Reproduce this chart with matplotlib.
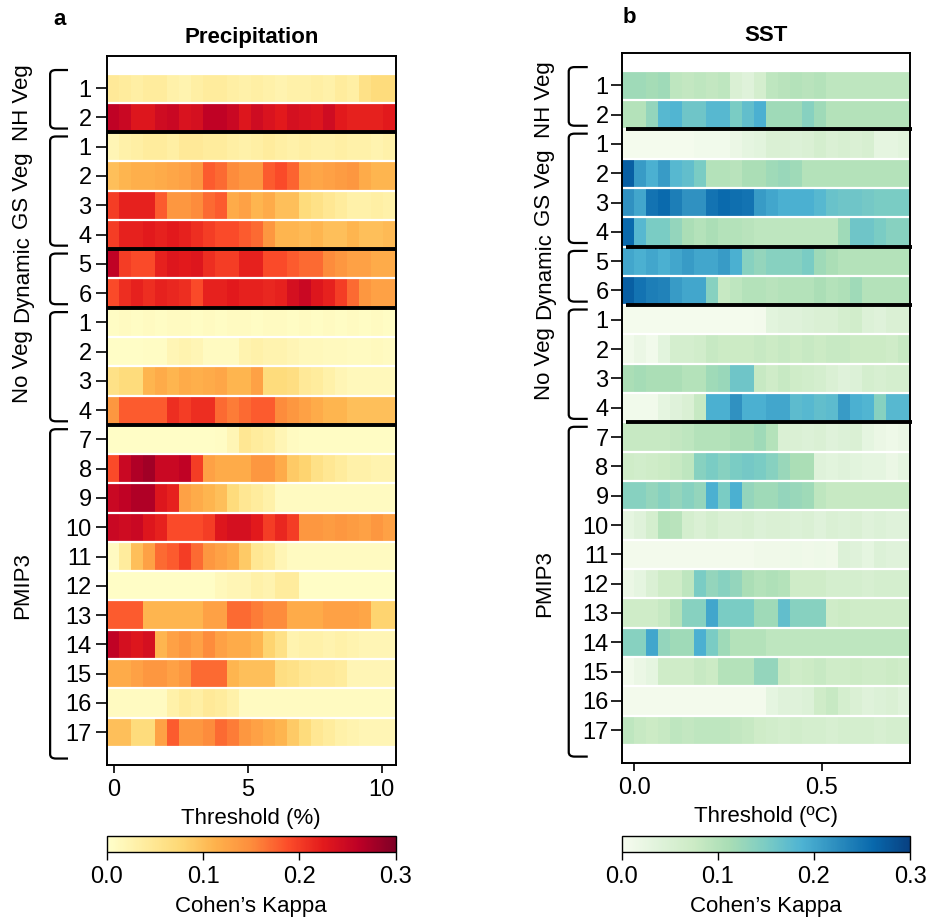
import numpy as np
import matplotlib.pyplot as plt
from matplotlib.path import Path
from matplotlib.patches import PathPatch

plt.rcParams['font.family'] = ['Liberation Sans', 'DejaVu Sans']

# row groups and tick labels (same for both panels)
groups = ['NH Veg', 'GS Veg', 'Dynamic', 'No Veg', 'PMIP3']
group_sizes = [2, 4, 2, 4, 11]
row_labels = ['1', '2', '1', '2', '3', '4', '5', '6', '1', '2', '3', '4',
              '7', '8', '9', '10', '11', '12', '13', '14', '15', '16', '17']

# Cohen's kappa per row (24 threshold bins per row)
precip_nh_veg = [
    [0.045, 0.04, 0.035, 0.04, 0.04, 0.03, 0.025, 0.035, 0.04, 0.04, 0.035, 0.03, 0.035, 0.03, 0.025, 0.03, 0.03, 0.035, 0.03, 0.04, 0.035, 0.06, 0.07, 0.07],
    [0.26, 0.25, 0.23, 0.23, 0.245, 0.25, 0.235, 0.24, 0.26, 0.26, 0.25, 0.23, 0.245, 0.235, 0.225, 0.24, 0.235, 0.23, 0.245, 0.225, 0.22, 0.22, 0.22, 0.225],
]
precip_gs_veg = [
    [0.02, 0.03, 0.035, 0.04, 0.04, 0.035, 0.045, 0.045, 0.04, 0.04, 0.035, 0.03, 0.035, 0.04, 0.035, 0.03, 0.035, 0.03, 0.03, 0.035, 0.03, 0.03, 0.025, 0.03],
    [0.1, 0.11, 0.115, 0.115, 0.12, 0.125, 0.13, 0.14, 0.18, 0.17, 0.15, 0.14, 0.14, 0.18, 0.19, 0.175, 0.13, 0.125, 0.13, 0.135, 0.14, 0.12, 0.11, 0.11],
    [0.2, 0.22, 0.22, 0.22, 0.18, 0.14, 0.14, 0.15, 0.17, 0.18, 0.12, 0.13, 0.11, 0.12, 0.1, 0.1, 0.07, 0.06, 0.05, 0.04, 0.03, 0.03, 0.035, 0.03],
    [0.2, 0.22, 0.22, 0.225, 0.22, 0.225, 0.22, 0.21, 0.2, 0.19, 0.19, 0.18, 0.17, 0.14, 0.11, 0.11, 0.105, 0.11, 0.1, 0.1, 0.11, 0.1, 0.1, 0.105],
]
precip_dynamic = [
    [0.26, 0.2, 0.19, 0.19, 0.22, 0.23, 0.225, 0.23, 0.21, 0.2, 0.2, 0.22, 0.22, 0.19, 0.19, 0.18, 0.17, 0.17, 0.15, 0.14, 0.13, 0.13, 0.12, 0.12],
    [0.19, 0.21, 0.22, 0.21, 0.22, 0.215, 0.21, 0.19, 0.22, 0.22, 0.225, 0.22, 0.22, 0.215, 0.22, 0.24, 0.25, 0.23, 0.22, 0.2, 0.17, 0.14, 0.13, 0.13],
]
precip_no_veg = [
    [0.008, 0.01, 0.008, 0.01, 0.008, 0.01, 0.01, 0.008, 0.01, 0.008, 0.01, 0.01, 0.008, 0.01, 0.01, 0.008, 0.01, 0.008, 0.01, 0.008, 0.01, 0.008, 0.01, 0.008],
    [0.005, 0.005, 0.005, 0.008, 0.008, 0.02, 0.025, 0.02, 0.01, 0.01, 0.01, 0.025, 0.03, 0.025, 0.025, 0.02, 0.015, 0.015, 0.012, 0.012, 0.01, 0.01, 0.012, 0.01],
    [0.06, 0.07, 0.07, 0.11, 0.12, 0.11, 0.12, 0.115, 0.12, 0.125, 0.11, 0.11, 0.13, 0.07, 0.07, 0.065, 0.045, 0.04, 0.03, 0.02, 0.015, 0.015, 0.015, 0.015],
    [0.14, 0.18, 0.18, 0.18, 0.18, 0.21, 0.2, 0.21, 0.21, 0.17, 0.16, 0.17, 0.18, 0.18, 0.15, 0.14, 0.13, 0.12, 0.11, 0.11, 0.1, 0.1, 0.1, 0.1],
]
precip_pmip3 = [
    [0.005, 0.005, 0.005, 0.005, 0.005, 0.005, 0.005, 0.005, 0.005, 0.008, 0.02, 0.05, 0.04, 0.035, 0.02, 0.01, 0.008, 0.008, 0.008, 0.008, 0.008, 0.008, 0.008, 0.008],
    [0.19, 0.25, 0.27, 0.28, 0.25, 0.25, 0.26, 0.2, 0.13, 0.12, 0.12, 0.12, 0.14, 0.14, 0.12, 0.09, 0.08, 0.06, 0.05, 0.04, 0.03, 0.03, 0.025, 0.025],
    [0.25, 0.26, 0.27, 0.27, 0.23, 0.22, 0.13, 0.12, 0.11, 0.1, 0.07, 0.05, 0.04, 0.03, 0.01, 0.01, 0.01, 0.01, 0.01, 0.01, 0.01, 0.01, 0.01, 0.01],
    [0.25, 0.245, 0.25, 0.23, 0.22, 0.19, 0.19, 0.19, 0.2, 0.23, 0.24, 0.24, 0.225, 0.2, 0.215, 0.2, 0.14, 0.14, 0.135, 0.14, 0.135, 0.13, 0.14, 0.13],
    [0.01, 0.04, 0.1, 0.13, 0.17, 0.18, 0.2, 0.17, 0.14, 0.13, 0.12, 0.09, 0.05, 0.04, 0.02, 0.01, 0.01, 0.01, 0.01, 0.01, 0.01, 0.01, 0.01, 0.01],
    [0.005, 0.005, 0.005, 0.005, 0.005, 0.005, 0.005, 0.005, 0.005, 0.015, 0.02, 0.02, 0.03, 0.025, 0.04, 0.04, 0.005, 0.005, 0.005, 0.005, 0.005, 0.005, 0.005, 0.005],
    [0.18, 0.18, 0.18, 0.11, 0.11, 0.11, 0.11, 0.11, 0.13, 0.13, 0.17, 0.17, 0.16, 0.15, 0.15, 0.12, 0.12, 0.12, 0.13, 0.13, 0.13, 0.125, 0.08, 0.08],
    [0.26, 0.24, 0.23, 0.24, 0.11, 0.13, 0.14, 0.13, 0.15, 0.13, 0.12, 0.12, 0.11, 0.08, 0.06, 0.025, 0.03, 0.03, 0.025, 0.03, 0.025, 0.02, 0.02, 0.02],
    [0.12, 0.12, 0.13, 0.14, 0.14, 0.13, 0.14, 0.17, 0.17, 0.17, 0.11, 0.1, 0.1, 0.1, 0.065, 0.06, 0.05, 0.045, 0.045, 0.04, 0.02, 0.02, 0.02, 0.02],
    [0.01, 0.01, 0.01, 0.01, 0.01, 0.03, 0.04, 0.035, 0.045, 0.04, 0.03, 0.01, 0.01, 0.01, 0.01, 0.01, 0.01, 0.01, 0.01, 0.01, 0.01, 0.01, 0.01, 0.01],
    [0.1, 0.1, 0.07, 0.07, 0.13, 0.18, 0.14, 0.14, 0.15, 0.17, 0.16, 0.14, 0.13, 0.12, 0.11, 0.09, 0.07, 0.05, 0.04, 0.03, 0.025, 0.02, 0.02, 0.02],
]

sst_nh_veg = [
    [0.12, 0.12, 0.115, 0.12, 0.09, 0.085, 0.09, 0.085, 0.09, 0.05, 0.04, 0.06, 0.09, 0.095, 0.1, 0.095, 0.1, 0.09, 0.09, 0.09, 0.09, 0.09, 0.09, 0.09],
    [0.1, 0.1, 0.13, 0.18, 0.185, 0.16, 0.16, 0.18, 0.18, 0.15, 0.17, 0.19, 0.12, 0.12, 0.12, 0.14, 0.12, 0.1, 0.1, 0.1, 0.1, 0.1, 0.1, 0.1],
]
sst_gs_veg = [
    [0.005, 0.005, 0.005, 0.005, 0.005, 0.005, 0.01, 0.01, 0.01, 0.02, 0.03, 0.035, 0.05, 0.05, 0.045, 0.05, 0.06, 0.05, 0.055, 0.05, 0.055, 0.03, 0.03, 0.035],
    [0.27, 0.21, 0.19, 0.21, 0.18, 0.17, 0.15, 0.1, 0.1, 0.095, 0.11, 0.11, 0.12, 0.125, 0.12, 0.1, 0.1, 0.1, 0.1, 0.1, 0.1, 0.1, 0.1, 0.1],
    [0.22, 0.2, 0.25, 0.26, 0.24, 0.22, 0.22, 0.25, 0.26, 0.255, 0.25, 0.21, 0.2, 0.19, 0.19, 0.19, 0.18, 0.165, 0.16, 0.16, 0.155, 0.15, 0.15, 0.15],
    [0.26, 0.18, 0.15, 0.15, 0.13, 0.11, 0.1, 0.11, 0.1, 0.1, 0.095, 0.09, 0.09, 0.09, 0.09, 0.09, 0.09, 0.09, 0.12, 0.16, 0.16, 0.15, 0.14, 0.14],
]
sst_dynamic = [
    [0.2, 0.19, 0.2, 0.19, 0.2, 0.21, 0.2, 0.2, 0.21, 0.19, 0.14, 0.13, 0.14, 0.14, 0.14, 0.15, 0.12, 0.11, 0.1, 0.1, 0.1, 0.1, 0.1, 0.1],
    [0.27, 0.25, 0.24, 0.235, 0.21, 0.2, 0.2, 0.14, 0.08, 0.09, 0.1, 0.1, 0.095, 0.1, 0.1, 0.1, 0.11, 0.1, 0.105, 0.12, 0.1, 0.1, 0.1, 0.1],
]
sst_no_veg = [
    [0.005, 0.005, 0.005, 0.005, 0.005, 0.005, 0.005, 0.005, 0.005, 0.005, 0.005, 0.008, 0.035, 0.04, 0.04, 0.045, 0.05, 0.05, 0.06, 0.065, 0.045, 0.04, 0.05, 0.05],
    [0.01, 0.02, 0.01, 0.035, 0.06, 0.06, 0.065, 0.08, 0.075, 0.075, 0.075, 0.08, 0.075, 0.08, 0.075, 0.08, 0.075, 0.08, 0.08, 0.075, 0.075, 0.075, 0.07, 0.08],
    [0.11, 0.115, 0.11, 0.11, 0.11, 0.1, 0.1, 0.12, 0.125, 0.16, 0.16, 0.08, 0.07, 0.08, 0.07, 0.065, 0.06, 0.05, 0.04, 0.045, 0.06, 0.055, 0.06, 0.06],
    [0.01, 0.01, 0.01, 0.03, 0.04, 0.05, 0.08, 0.19, 0.19, 0.22, 0.19, 0.19, 0.2, 0.2, 0.175, 0.18, 0.17, 0.175, 0.21, 0.19, 0.185, 0.14, 0.18, 0.18],
]
sst_pmip3 = [
    [0.08, 0.08, 0.08, 0.08, 0.085, 0.09, 0.1, 0.1, 0.1, 0.11, 0.11, 0.12, 0.1, 0.05, 0.05, 0.045, 0.05, 0.04, 0.045, 0.05, 0.03, 0.02, 0.015, 0.02],
    [0.07, 0.065, 0.07, 0.075, 0.08, 0.09, 0.14, 0.15, 0.14, 0.15, 0.155, 0.15, 0.14, 0.125, 0.11, 0.11, 0.04, 0.035, 0.04, 0.035, 0.03, 0.03, 0.02, 0.03],
    [0.14, 0.14, 0.13, 0.14, 0.13, 0.14, 0.13, 0.19, 0.15, 0.19, 0.13, 0.12, 0.12, 0.13, 0.125, 0.12, 0.09, 0.08, 0.08, 0.08, 0.08, 0.08, 0.08, 0.08],
    [0.03, 0.04, 0.06, 0.1, 0.095, 0.06, 0.05, 0.06, 0.05, 0.05, 0.055, 0.045, 0.05, 0.05, 0.045, 0.05, 0.04, 0.05, 0.045, 0.05, 0.04, 0.045, 0.04, 0.04],
    [0.008, 0.008, 0.008, 0.008, 0.008, 0.008, 0.008, 0.008, 0.008, 0.008, 0.008, 0.012, 0.012, 0.012, 0.015, 0.012, 0.015, 0.012, 0.045, 0.04, 0.03, 0.045, 0.04, 0.04],
    [0.02, 0.03, 0.05, 0.07, 0.07, 0.09, 0.15, 0.13, 0.14, 0.13, 0.11, 0.1, 0.105, 0.1, 0.07, 0.07, 0.07, 0.06, 0.06, 0.06, 0.055, 0.06, 0.06, 0.06],
    [0.07, 0.07, 0.07, 0.08, 0.1, 0.14, 0.14, 0.2, 0.15, 0.15, 0.15, 0.12, 0.12, 0.17, 0.14, 0.14, 0.14, 0.07, 0.075, 0.07, 0.07, 0.07, 0.07, 0.07],
    [0.14, 0.14, 0.2, 0.13, 0.12, 0.12, 0.19, 0.15, 0.12, 0.1, 0.1, 0.1, 0.09, 0.09, 0.09, 0.09, 0.09, 0.09, 0.09, 0.09, 0.09, 0.09, 0.09, 0.09],
    [0.01, 0.02, 0.03, 0.07, 0.07, 0.07, 0.08, 0.075, 0.1, 0.1, 0.1, 0.13, 0.13, 0.08, 0.07, 0.075, 0.08, 0.07, 0.07, 0.075, 0.07, 0.07, 0.075, 0.07],
    [0.008, 0.008, 0.008, 0.008, 0.008, 0.008, 0.008, 0.008, 0.008, 0.008, 0.008, 0.008, 0.03, 0.04, 0.04, 0.045, 0.07, 0.08, 0.06, 0.05, 0.04, 0.045, 0.05, 0.04],
    [0.09, 0.08, 0.075, 0.08, 0.09, 0.085, 0.09, 0.09, 0.09, 0.085, 0.08, 0.07, 0.065, 0.06, 0.065, 0.06, 0.06, 0.055, 0.06, 0.06, 0.06, 0.055, 0.06, 0.06],
]

precip = np.vstack([precip_nh_veg, precip_gs_veg, precip_dynamic, precip_no_veg, precip_pmip3])
sst = np.vstack([sst_nh_veg, sst_gs_veg, sst_dynamic, sst_no_veg, sst_pmip3])

precip_range = (-0.27, 10.52)
sst_range = (-0.033, 0.735)


def draw_bracket(ax, y0, y1, xv, xa, rx=0.02, ry=0.15):
    verts = [(xa, y0), (xv + rx, y0), (xv, y0), (xv, y0 + ry),
             (xv, y1 - ry), (xv, y1), (xv + rx, y1), (xa, y1)]
    codes = [Path.MOVETO, Path.LINETO, Path.CURVE3, Path.CURVE3,
             Path.LINETO, Path.CURVE3, Path.CURVE3, Path.LINETO]
    ax.add_patch(PathPatch(Path(verts, codes), transform=ax.get_yaxis_transform(),
                           fill=False, lw=1.6, color='black', clip_on=False))


def panel(ax, cax, data, xrange, cmap, title, xlabel, xticks, xticklabels,
          brk_x, brk_arm, lab_x, ytick_pad, line_x0, line_x1):
    nrow, ncol = data.shape
    xe = np.linspace(xrange[0], xrange[1], ncol + 1)
    ye = np.arange(nrow + 1) - 0.5
    mesh = ax.pcolormesh(xe, ye, data, cmap=cmap, vmin=0, vmax=0.3, shading='flat')
    ax.hlines(np.arange(nrow + 1) - 0.5, xrange[0], xrange[1], color='white', lw=1.6)
    bounds = np.cumsum(group_sizes)[:-1] - 0.5
    for b in bounds:
        ax.plot([line_x0, line_x1], [b, b], color='black', lw=2.8,
                transform=ax.get_yaxis_transform(), clip_on=False, solid_capstyle='butt')
    ax.set_xlim(xrange)
    ax.set_ylim(23.12, -1.1)
    ax.set_yticks(np.arange(nrow))
    ax.set_yticklabels(row_labels)
    ax.set_xticks(xticks)
    ax.set_xticklabels(xticklabels)
    ax.tick_params(axis='y', labelsize=17, length=8, width=1.2, pad=ytick_pad)
    ax.tick_params(axis='x', labelsize=17, length=6, width=1.2, pad=4)
    for s in ax.spines.values():
        s.set_linewidth(1.4)
    ax.set_title(title, fontsize=16, fontweight='bold', pad=9)
    ax.set_xlabel(xlabel, fontsize=16, labelpad=5)

    start = 0
    for i, (name, n) in enumerate(zip(groups, group_sizes)):
        end = start + n - 1
        top = start - (0.62 if i == 0 else 0.35)
        bot = end + (0.9 if i == len(groups) - 1 else 0.38)
        draw_bracket(ax, top, bot, brk_x, brk_arm)
        ax.text(lab_x, (start + end) / 2, name, rotation=90, ha='center', va='center',
                fontsize=16, transform=ax.get_yaxis_transform())
        start += n

    cb = plt.colorbar(mesh, cax=cax, orientation='horizontal')
    cb.set_ticks([0.0, 0.1, 0.2, 0.3])
    cb.set_ticklabels(['0.0', '0.1', '0.2', '0.3'])
    cb.ax.tick_params(labelsize=17, length=6, width=1.0, pad=4)
    cb.outline.set_linewidth(1.0)
    cb.set_label('Cohen\u2019s Kappa', fontsize=16, labelpad=6)


fig = plt.figure(figsize=(9.35, 9.19), dpi=100)
ax1 = fig.add_axes([0.1144, 0.1676, 0.3086, 0.7715])
ax2 = fig.add_axes([0.6650, 0.1697, 0.3083, 0.7726])
cax1 = fig.add_axes([0.1144, 0.0729, 0.3086, 0.0174])
cax2 = fig.add_axes([0.6650, 0.0729, 0.3083, 0.0174])

panel(ax1, cax1, precip, precip_range, 'YlOrRd', 'Precipitation', 'Threshold (%)',
      [0, 5, 10], ['0', '5', '10'], -0.197, -0.135, -0.294, 3, 0.0, 1.0)
panel(ax2, cax2, sst, sst_range, 'GnBu', 'SST', 'Threshold (\u00baC)',
      [0.0, 0.5], ['0.0', '0.5'], -0.184, -0.118, -0.267, 1.5, 0.015, 1.007)

fig.text(0.064, 0.979, 'a', fontsize=16, fontweight='bold', ha='center', va='center')
fig.text(0.673, 0.981, 'b', fontsize=16, fontweight='bold', ha='center', va='center')

fig.savefig('out.png', dpi=100)
